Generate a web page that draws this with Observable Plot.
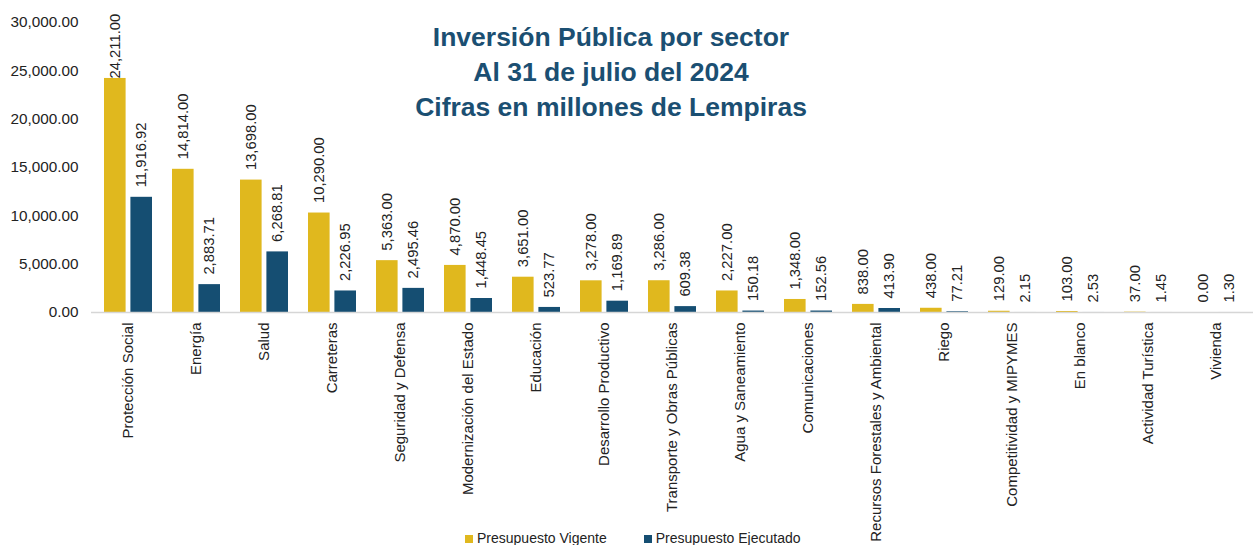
<!DOCTYPE html>
<html>
<head>
<meta charset="utf-8">
<script src="https://cdn.jsdelivr.net/npm/d3@7"></script>
<script src="https://cdn.jsdelivr.net/npm/@observablehq/plot@0.6"></script>
<style>
  html, body { margin: 0; padding: 0; background: #fff; }
  #wrap { position: relative; width: 1253px; height: 545px; font-family: "Liberation Sans", Arial, sans-serif; }
  #title { position: absolute; left: 0; width: 1222px; top: 20px; text-align: center; color: #1B4F72; font-weight: bold; font-size: 26.5px; line-height: 35px; }
  #legend { position: absolute; top: 530px; left: 465px; font-size: 14px; color: #222; display: flex; gap: 37px; }
  #legend span.sw { display: inline-block; width: 8px; height: 8px; margin-right: 4px; vertical-align: 0px; }
</style>
</head>
<body>
<div id="wrap">
  <div id="chart"></div>
  <div id="title">Inversión Pública por sector<br>Al 31 de julio del 2024<br>Cifras en millones de Lempiras</div>
  <div id="legend"></div>
</div>
<script>
const categories = ["Protección Social", "Energía", "Salud", "Carreteras", "Seguridad y Defensa", "Modernización del Estado", "Educación", "Desarrollo Productivo", "Transporte y Obras Públicas", "Agua y Saneamiento", "Comunicaciones", "Recursos Forestales y Ambiental", "Riego", "Competitividad y MIPYMES", "En blanco", "Actividad Turística", "Vivienda"];
const vigente = [24211, 14814, 13698, 10290, 5363, 4870, 3651, 3278, 3286, 2227, 1348, 838, 438, 129, 103, 37, 0];
const ejecutado = [11916.92, 2883.71, 6268.81, 2226.95, 2495.46, 1448.45, 523.77, 1169.89, 609.38, 150.18, 152.56, 413.90, 77.21, 2.15, 2.53, 1.45, 1.30];
const seriesNames = ["Presupuesto Vigente", "Presupuesto Ejecutado"];
const seriesColors = ["#E0B81E", "#154E72"];
const yTicks = [0, 5000, 10000, 15000, 20000, 25000, 30000];

const fmt = d3.format(",.2f");
const dataV = categories.map((c, i) => ({cat: c, value: vigente[i]}));
const dataE = categories.map((c, i) => ({cat: c, value: ejecutado[i]}));

const half = 26.4;
const chart = Plot.plot({
  width: 1253,
  height: 545,
  marginLeft: 91,
  marginRight: 0,
  marginTop: 22,
  marginBottom: 233,
  style: {fontFamily: "Liberation Sans, Arial, sans-serif", color: "#222", background: "transparent"},
  x: {domain: categories, paddingInner: 0.3, paddingOuter: 0.15, label: null},
  y: {domain: [0, 30000], label: null},
  marks: [
    Plot.axisY({ticks: yTicks, tickFormat: fmt, tickSize: 0, tickPadding: 13, fontSize: 15.3, label: null}),
    Plot.axisX({tickRotate: -90, tickSize: 0, tickPadding: 10, fontSize: 15, label: null}),
    Plot.barY(dataV, {x: "cat", y: "value", fill: seriesColors[0], insetRight: half}),
    Plot.barY(dataE, {x: "cat", y: "value", fill: seriesColors[1], insetLeft: half}),
    Plot.ruleY([0], {stroke: "#d6d6d6", strokeWidth: 1.5}),
    Plot.text(dataV.filter(d => d.value < 20000), {x: "cat", y: "value", text: d => fmt(d.value), rotate: -90, textAnchor: "start", dx: -13.2, dy: -10, fontSize: 14.8, fill: "#222"}),
    Plot.text(dataV.filter(d => d.value >= 20000), {x: "cat", y: "value", text: d => fmt(d.value), rotate: -90, textAnchor: "start", dx: -13.2, dy: 0, fontSize: 14.8, fill: "#222"}),
    Plot.text(dataE, {x: "cat", y: "value", text: d => fmt(d.value), rotate: -90, textAnchor: "start", dx: 13.2, dy: -10, fontSize: 14.8, fill: "#222"})
  ]
});
document.getElementById("chart").appendChild(chart);

const legend = document.getElementById("legend");
seriesNames.forEach((n, i) => {
  const item = document.createElement("div");
  item.innerHTML = `<span class="sw" style="background:${seriesColors[i]}"></span>${n}`;
  legend.appendChild(item);
});
</script>
</body>
</html>
